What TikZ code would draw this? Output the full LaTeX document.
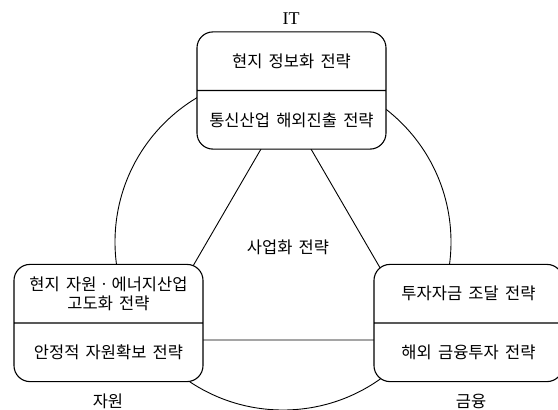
\documentclass[tikz,border=0pt]{standalone}
\usepackage{fontspec}
\setmainfont{Liberation Serif}
\newfontfamily\kr[WordSpace=1.7]{Noto Sans CJK KR}
\usetikzlibrary{shapes.multipart}
\newcommand{\stratpart}[1]{\parbox[c][57.5pt][c]{189pt}{\centering #1}}

\begin{document}
\begin{tikzpicture}[x=1pt, y=-1pt,
  stratbox/.style={rectangle split, rectangle split parts=2, draw, line width=1.1pt,
    fill=white, rounded corners=16pt, inner sep=0pt, font=\kr\fontsize{16.5}{20}\selectfont},
  axislabel/.style={inner sep=0pt, font=\kr\fontsize{16.5}{18}\selectfont},
  ring/.style={line width=0.9pt}]
\useasboundingbox (0,0) rectangle (558,410);

% === circle and triangle behind the boxes ===
\coordinate (ctr) at (283,242);
\draw[ring] (ctr) circle[radius=168pt];
\coordinate (tritop) at (286,106);
\coordinate (trileft) at (150,340);
\coordinate (triright) at (422,340);
\draw[ring] (tritop) -- (trileft) -- (triright) -- cycle;

% === strategy boxes ===
\node[stratbox] (itbox) at (291.5,90.5)
  {\stratpart{현지 정보화 전략}\nodepart{two}\stratpart{통신산업 해외진출 전략}};
\node[stratbox] (resbox) at (108.5,323)
  {\stratpart{현지 자원ㆍ에너지산업\\[-1pt]고도화 전략}\nodepart{two}\stratpart{안정적 자원확보 전략}};
\node[stratbox] (finbox) at (468.5,323)
  {\stratpart{투자자금 조달 전략}\nodepart{two}\stratpart{해외 금융투자 전략}};

% labels
\node[axislabel, font=\rmfamily\fontsize{18}{20}\selectfont] (itlabel) at (291,18.5) {IT};
\node[axislabel] (reslabel) at (108,401.5) {자원};
\node[axislabel] (finlabel) at (471,401.5) {금융};
\node[axislabel] (bizlabel) at (288,247) {사업화 전략};
\end{tikzpicture}
\end{document}
